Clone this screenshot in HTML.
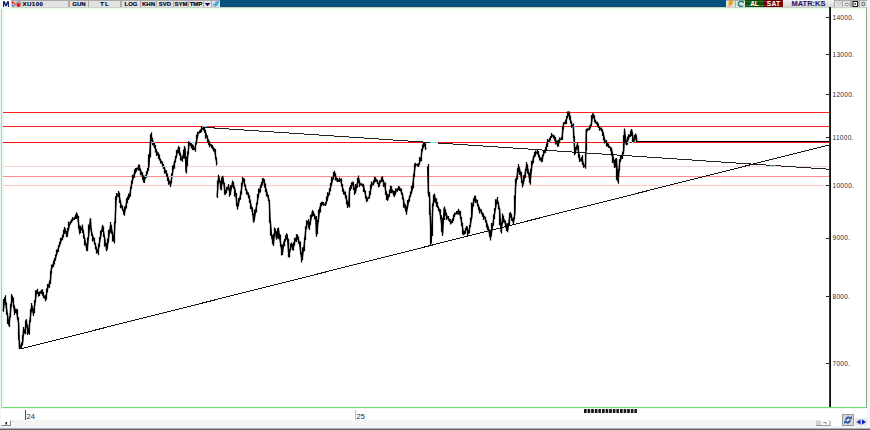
<!DOCTYPE html>
<html><head><meta charset="utf-8">
<style>
*{margin:0;padding:0;box-sizing:border-box}
html,body{width:870px;height:430px;overflow:hidden;background:#fff;font-family:"Liberation Sans",sans-serif}
.a{position:absolute}
#tb{position:absolute;left:0;top:0;width:867px;height:7.5px;background:#a9a9a9}
.btn{position:absolute;top:1px;height:6px;background:#e2e2e2;font-size:6px;font-weight:bold;line-height:7px;text-align:center;color:#000018;-webkit-text-stroke:0.15px #000018;letter-spacing:0px;overflow:hidden}
.lbl{position:absolute;left:832.5px;font-size:6.5px;line-height:9px;color:#2a2a3a;letter-spacing:0.3px}
</style></head><body>
<div id="tb"></div>
<div class="a" style="left:0;top:0;width:11px;height:8px;background:#fff"></div>
<svg class="a" style="left:0;top:0" width="11" height="8" viewBox="0 0 11 8"><polygon points="3,7 3,1.2 4.9,1.2 6,4.3 7.1,1.2 9,1.2 9,7 7.8,7 7.8,3.4 6.6,6.3 5.4,6.3 4.2,3.4 4.2,7" fill="#1a1a6e"/></svg>
<div class="btn" style="left:11px;width:11px;background:#cfcfcf"></div>
<svg class="a" style="left:11px;top:0" width="11" height="8" viewBox="0 0 11 8">
<polygon points="1,1 1,4 4.5,3.5" fill="#e82020"/>
<polyline points="1,5 2.2,6.5 4,4.8 6,3 7.5,1.4 9.8,3.5" fill="none" stroke="#1a20a0" stroke-width="1" stroke-dasharray="1,0.6"/>
<circle cx="7.5" cy="4.9" r="2" fill="#ee1010"/>
</svg>
<div class="btn" style="left:22px;width:46px;text-align:left;padding-left:0.5px;top:1px;line-height:7px;font-size:6px;letter-spacing:0.5px">XU100</div>
<div class="btn" style="left:70px;width:18px">GUN</div>
<div class="btn" style="left:89px;width:31px;letter-spacing:1px;padding-left:1px">TL</div>
<div class="btn" style="left:122px;width:18px">LOG</div>
<div class="btn" style="left:141px;width:15px">KHN</div>
<div class="btn" style="left:157px;width:16px">SVD</div>
<div class="btn" style="left:174px;width:14px">SYM</div>
<div class="btn" style="left:189px;width:14px">TMP</div>
<div class="btn" style="left:204px;width:7px"></div>
<svg class="a" style="left:204px;top:0" width="7" height="8"><polygon points="0.8,3 6.2,3 3.5,6.2" fill="#0a0a50"/></svg>
<div class="btn" style="left:212px;width:8px"></div>
<svg class="a" style="left:212px;top:0" width="8" height="8" viewBox="0 0 8 8"><path d="M0.5 3.5 C1.5 4 2.5 3.8 3 3.2 C3.2 2 4 1 5.5 1.2 L7.5 0.8 L6.8 2 C6.8 4.5 5 7 1 6.8 C2.5 6.3 2.6 6 2.2 5.6 C1.3 5.3 0.9 4.6 0.5 3.5 Z" fill="#40a8e4"/></svg>
<div class="a" style="left:220px;top:0;width:506px;height:7px;background:#07517f"></div>
<div class="btn" style="left:726px;width:9px"></div>
<svg class="a" style="left:726px;top:0" width="9" height="8" viewBox="0 0 9 8"><polygon points="3.8,0.8 7,0.8 5.6,3 7.2,3 2.6,7.2 4,4.3 2.4,4.3" fill="#f0a000" stroke="#e09000" stroke-width="0.4"/></svg>
<div class="btn" style="left:736px;width:9px"></div>
<svg class="a" style="left:736px;top:0" width="9" height="8" viewBox="0 0 9 8"><path d="M7 2.2 A2.6 2.6 0 1 0 7 5.6" fill="none" stroke="#1a8a70" stroke-width="1.6"/><polygon points="5.2,1 7.8,1 7.8,3.4" fill="#1a8a70"/></svg>
<div class="btn" style="left:745px;width:19px;top:0;height:7px;background:linear-gradient(#0a4a0a 0,#0a4a0a 1px,#2a7a2a 1px,#2a7a2a 2px,#0a4f0a 2px,#0a4f0a 5px,#2a7a2a 5px,#2a7a2a 6px,#0a4a0a 6px);color:#fff;-webkit-text-stroke:0;font-size:6.5px;line-height:8px">AL</div>
<div class="btn" style="left:764px;width:19px;top:0;height:7px;background:linear-gradient(#680000 0,#680000 1px,#902020 1px,#902020 2px,#6e0000 2px,#6e0000 5px,#902020 5px,#902020 6px,#680000 6px);color:#fff;-webkit-text-stroke:0;font-size:6.5px;line-height:8px;letter-spacing:0.3px">SAT</div>
<div class="btn" style="left:783px;width:51px;background:linear-gradient(#f4f4f4,#d4d4d4);color:#1e1e6a;font-size:7.5px;top:0;height:7px;line-height:8.5px;-webkit-text-stroke:0.1px #1e1e6a">MATR:KS</div>
<div class="btn" style="left:835px;width:7px"></div>
<div class="btn" style="left:843px;width:7px"></div>
<div class="btn" style="left:852px;width:7px"></div>
<div class="btn" style="left:860px;width:7px"></div>
<svg class="a" style="left:830px;top:0" width="40" height="8" viewBox="0 0 40 8">
<polygon points="7.2,2.6 11,2.6 9.8,4.8 8.4,4.8" fill="#fafafa" stroke="#aaa" stroke-width="0.6"/>
<ellipse cx="17" cy="4.4" rx="2" ry="1.1" fill="#fff" stroke="#777" stroke-width="0.8"/>
<rect x="23" y="1.5" width="4.5" height="5" fill="#fff" stroke="#111" stroke-width="1"/>
<rect x="24.5" y="3" width="1.3" height="2" fill="#333"/>
<rect x="27.8" y="2" width="0.8" height="1" fill="#222"/><rect x="27.8" y="4.5" width="0.8" height="1" fill="#222"/>
<rect x="32" y="2.3" width="2.8" height="3.4" rx="1" fill="none" stroke="#556" stroke-width="0.9"/>
</svg>
<div class="a" style="left:867px;top:0;width:3px;height:430px;background:#f2f5fa"></div>

<svg class="a" style="left:0;top:0" width="870" height="430" viewBox="0 0 870 430">
<rect x="0" y="7.5" width="866" height="2" fill="#ecfdec"/>
<rect x="0" y="8" width="1" height="422" fill="#f2f6fc"/>
<rect x="1" y="9" width="1" height="399" fill="#c4c4c4"/>
<rect x="2" y="9" width="2" height="398" fill="#eaffea"/>
<rect x="866" y="8" width="1" height="400" fill="#8aa88a"/>
<line x1="3" y1="112.5" x2="829" y2="112.5" stroke="#ff2020" stroke-width="1"/>
<line x1="3" y1="126.5" x2="829" y2="126.5" stroke="#ff2020" stroke-width="1"/>
<line x1="3" y1="142.5" x2="829" y2="142.5" stroke="#ff1010" stroke-width="1"/>
<line x1="637" y1="141.5" x2="829" y2="141.5" stroke="#000" stroke-width="1"/>
<line x1="3" y1="166.5" x2="829" y2="166.5" stroke="#ffd0d0" stroke-width="1"/>
<line x1="3" y1="176.5" x2="829" y2="176.5" stroke="#ff8c8c" stroke-width="1"/>
<line x1="3" y1="185.5" x2="829" y2="185.5" stroke="#ffc8c8" stroke-width="1"/>
<line x1="204" y1="127.3" x2="830" y2="169.3" stroke="#222" stroke-width="1" shape-rendering="crispEdges"/>
<line x1="19.5" y1="349.2" x2="830" y2="144.7" stroke="#111" stroke-width="1" shape-rendering="crispEdges"/>
<path d="M3.3 310.9 L4.9 297.1 L9.0 325.6 L12.2 295.5 L14.7 312.6 L16.3 310.1 L18.7 324.0 L19.5 348.4 L22.8 341.9 L23.6 328.9 L25.2 333.7 L26.0 319.9 L28.5 333.7 L30.1 319.1 L31.8 305.2 L33.4 314.2 L36.6 291.4 L39.1 294.7 L41.5 290.6 L45.6 299.5 L47.2 289.8 L50.5 280.0 L51.3 269.2 L55.4 258.6 L58.6 247.2 L62.7 236.6 L65.1 229.3 L66.8 235.8 L70.0 222.8 L77.4 214.7 L79.8 232.6 L82.2 226.9 L87.1 250.5 L90.4 218.7 L91.2 231.0 L97.7 252.9 L102.6 226.0 L106.7 250.5 L110.7 224.4 L114.0 241.5 L116.3 197.5 L118.7 193.4 L121.2 205.6 L124.4 213.7 L126.9 200.7 L129.3 197.5 L131.8 182.8 L135.0 171.4 L139.1 166.5 L141.5 173.0 L144.0 181.2 L146.4 174.7 L148.9 166.5 L150.9 134.7 L154.2 146.0 L159.9 159.1 L164.0 167.2 L170.5 185.1 L173.7 165.6 L178.6 147.7 L181.9 160.7 L185.1 147.7 L186.0 172.1 L189.2 142.8 L194.9 149.3 L198.2 133.0 L203.9 127.3 L208.8 142.8 L214.5 149.3 L216.9 164.0 M217.1 196.9 L218.7 176.5 L221.2 187.9 L222.8 176.5 L225.2 193.6 L228.5 186.3 L230.1 194.4 L232.6 182.2 L235.0 189.5 L237.5 207.5 L240.7 194.4 L243.2 178.1 L245.6 187.9 L249.7 199.3 L252.9 214.0 L253.7 222.1 L258.6 194.4 L260.3 187.9 L263.5 179.8 L266.0 189.5 L269.3 201.6 L270.1 219.5 L271.8 237.5 L273.4 244.0 L275.0 228.5 L276.6 238.3 L278.3 228.5 L279.9 239.1 L282.3 253.7 L284.0 242.3 L287.2 234.2 L288.9 256.2 L291.3 244.0 L292.9 248.9 L294.6 242.3 L297.0 235.8 L299.4 242.3 L301.9 260.3 L304.3 244.0 L306.0 227.7 L307.6 221.2 L309.2 227.7 L312.5 211.4 L315.7 217.9 L316.5 235.0 L319.8 208.1 L321.4 203.3 L325.4 205.0 L328.7 194.4 L330.3 188.7 L334.4 172.4 L337.3 181.2 L340.6 179.5 L343.0 189.3 L345.5 195.8 L348.7 206.4 L349.5 191.0 L352.8 182.8 L355.2 193.4 L358.5 177.9 L360.1 184.4 L363.4 185.2 L366.6 199.9 L369.1 197.5 L371.5 186.0 L375.6 178.7 L378.9 185.2 L382.1 177.9 L384.6 184.4 L386.2 194.2 L387.8 199.1 L391.1 187.7 L394.3 195.8 L396.8 189.3 L400.0 188.5 L402.5 195.0 L404.9 207.2 L406.5 212.1 L409.0 199.1 L412.1 190.3 L413.7 177.2 L415.4 164.2 L418.6 165.8 L421.1 157.7 L421.9 150.4 L424.3 143.8 L425.9 148.7 M427.6 166.6 L428.4 193.5 L429.5 194.9 L431.2 243.7 L432.8 206.3 L434.4 194.9 L436.1 203.0 L439.3 209.5 L440.9 217.7 L442.6 234.0 L444.2 207.9 L447.5 217.7 L451.5 222.6 L454.8 214.4 L458.9 211.2 L460.5 216.1 L463.7 234.0 L467.0 227.5 L468.6 234.0 L471.9 216.1 L472.7 204.7 L475.1 197.3 L478.4 206.3 L481.7 212.8 L484.9 217.7 L488.2 227.5 L490.6 238.0 L493.1 222.6 L494.7 212.8 L497.1 199.0 L499.6 209.5 L501.2 232.3 L502.8 216.1 L507.7 230.7 L510.2 212.8 L513.4 222.6 L515.0 212.8 L515.5 187.2 L517.1 175.8 L518.7 166.1 L520.4 172.6 L522.8 185.6 L524.4 177.5 L526.9 164.4 L528.5 172.6 L530.1 182.3 L531.8 166.1 L533.4 157.9 L535.0 154.7 L537.5 151.4 L539.9 157.9 L541.5 161.2 L544.0 153.0 L545.6 149.0 L548.0 142.4 L552.1 135.0 L555.4 139.1 L557.8 145.6 L560.3 139.1 L561.9 139.1 L563.5 124.4 L566.0 121.2 L568.4 113.0 L571.7 124.4 L573.3 126.5 L574.9 154.2 L577.3 144.4 L578.1 149.3 L579.8 160.7 L582.2 157.5 L583.0 164.0 L585.5 167.2 L586.3 129.8 L588.8 129.3 L591.2 124.9 L592.8 114.7 L595.2 120.8 L598.5 126.5 L602.6 131.4 L605.0 141.2 L607.5 144.4 L611.5 149.3 L613.2 157.5 L614.8 167.2 L616.4 159.1 L618.0 181.9 L619.7 162.3 L622.1 155.8 L623.7 150.9 L624.6 130.6 L626.2 144.4 L629.4 136.3 L631.9 131.4 L633.5 141.2 L636.0 134.7 L636.8 141.2" fill="none" stroke="#000" stroke-width="1.35" stroke-linejoin="miter"/>
<path d="M3.5 298.9V311.7M5.5 295.2V304.6M6.5 302.8V314.4M7.5 313.1V324.0M9.5 316.8V327.0M10.5 304.3V317.4M11.5 294.1V306.4M13.5 297.5V307.8M14.5 305.6V315.1M15.5 308.4V313.0M17.5 309.3V319.7M18.5 317.2V339.7M19.5 340.3V349.1M21.5 342.6V348.5M22.5 335.0V345.4M23.5 327.1V335.9M25.5 321.2V334.3M26.5 319.3V327.2M27.5 324.8V335.1M29.5 320.5V334.8M30.5 309.1V322.1M31.5 303.0V311.8M33.5 308.5V315.9M34.5 300.2V313.0M35.5 290.3V302.3M37.5 288.8V293.7M38.5 291.7V296.8M39.5 291.6V296.0M41.5 290.0V294.1M42.5 289.3V295.8M43.5 292.0V298.2M45.5 295.2V301.2M46.5 288.6V299.4M47.5 283.9V292.3M49.5 280.7V287.8M50.5 271.3V283.9M51.5 264.4V273.4M53.5 260.6V267.2M54.5 258.1V264.5M55.5 254.4V260.7M56.5 249.4V255.4M58.5 245.3V252.1M59.5 241.7V246.8M60.5 237.8V244.6M62.5 234.8V240.3M63.5 229.8V237.6M64.5 227.1V234.0M66.5 230.9V237.2M67.5 228.1V236.8M68.5 221.4V229.8M70.5 220.8V224.6M71.5 219.2V223.1M72.5 217.0V221.2M74.5 216.8V220.0M75.5 214.6V218.9M76.5 212.2V218.9M78.5 216.0V228.7M79.5 225.5V233.2M80.5 225.7V233.2M82.5 224.6V233.0M83.5 229.9V238.6M84.5 236.9V245.5M86.5 243.4V250.7M87.5 237.6V251.3M88.5 224.5V238.4M90.5 218.2V228.7M91.5 228.4V236.1M92.5 234.5V241.6M94.5 237.8V244.6M95.5 243.0V249.5M96.5 247.3V253.7M98.5 243.6V255.3M99.5 237.1V246.9M100.5 230.6V238.8M102.5 224.8V231.9M103.5 226.4V237.0M104.5 236.1V246.6M106.5 243.0V251.3M107.5 238.5V248.8M108.5 229.8V242.2M110.5 222.1V232.9M111.5 225.1V233.9M112.5 232.2V241.6M114.5 221.9V243.6M115.5 196.3V223.0M116.5 193.1V200.0M118.5 191.1V197.3M119.5 192.7V203.1M120.5 200.4V208.2M122.5 205.5V210.5M123.5 209.6V214.4M124.5 206.5V215.7M126.5 198.2V208.6M127.5 196.4V203.2M128.5 193.4V200.1M130.5 187.1V196.4M131.5 180.4V188.6M132.5 174.7V183.4M134.5 169.5V177.8M135.5 168.1V173.7M136.5 167.7V171.7M138.5 164.4V170.4M139.5 164.4V171.0M140.5 168.8V175.3M142.5 172.2V179.7M143.5 175.2V182.5M144.5 175.7V182.9M146.5 171.2V177.7M147.5 168.1V173.7M148.5 154.2V170.8M150.5 133.9V157.6M151.5 132.2V141.0M152.5 138.1V145.3M154.5 143.1V148.0M155.5 145.1V152.4M156.5 149.1V156.0M158.5 152.4V159.0M159.5 154.6V160.6M160.5 158.7V163.4M162.5 161.4V166.6M163.5 164.0V169.0M164.5 167.1V173.7M166.5 170.3V176.4M167.5 173.4V181.0M168.5 177.4V184.7M170.5 180.9V186.7M171.5 173.6V183.3M172.5 165.6V175.6M174.5 161.1V168.8M175.5 155.9V162.8M176.5 149.9V158.1M178.5 146.5V153.2M179.5 147.1V155.8M180.5 153.2V160.6M182.5 156.1V161.8M183.5 149.6V158.4M184.5 146.0V158.7M186.5 156.4V173.5M187.5 151.2V166.0M188.5 141.2V154.2M190.5 141.7V146.2M191.5 143.2V148.6M192.5 144.2V149.9M193.5 145.2V150.2M195.5 141.8V151.8M196.5 134.7V143.9M197.5 131.7V138.0M199.5 130.5V133.4M200.5 129.2V133.0M201.5 126.3V132.1M203.5 126.5V130.4M204.5 126.1V132.8M205.5 129.9V138.7M207.5 135.5V142.9M208.5 139.3V145.0M209.5 141.0V147.2M211.5 144.2V147.9M212.5 145.0V149.2M213.5 147.2V151.6M215.5 148.9V159.2M216.5 157.4V165.4M217.5 180.4V198.1M218.5 174.7V182.5M220.5 180.7V189.6M221.5 177.6V190.4M222.5 175.8V183.8M224.5 182.7V194.3M225.5 190.0V194.4M226.5 186.8V193.3M228.5 184.1V189.8M229.5 188.4V196.8M230.5 185.1V194.9M232.5 181.5V187.1M233.5 181.7V188.8M234.5 187.0V196.6M236.5 192.9V205.9M237.5 203.5V209.8M238.5 198.1V206.2M240.5 191.3V199.7M241.5 182.4V194.6M242.5 177.0V184.3M244.5 178.5V186.2M245.5 184.8V190.6M246.5 189.4V194.4M248.5 192.6V198.3M249.5 195.3V203.0M250.5 200.7V208.9M252.5 207.2V214.8M253.5 214.1V222.6M254.5 209.4V220.1M256.5 203.0V212.5M257.5 193.9V204.2M258.5 188.4V197.3M260.5 184.8V192.6M261.5 181.7V187.7M262.5 177.9V185.4M264.5 179.2V187.5M265.5 183.6V192.2M266.5 189.3V196.4M268.5 194.9V200.9M269.5 199.7V222.8M270.5 220.6V235.7M272.5 235.0V244.2M273.5 233.8V245.9M274.5 227.4V236.4M276.5 231.2V239.8M277.5 228.2V237.7M278.5 227.4V239.2M280.5 234.6V246.6M281.5 244.4V255.6M282.5 244.4V254.9M284.5 239.6V246.3M285.5 235.3V241.5M286.5 233.3V239.8M288.5 238.7V257.3M289.5 249.1V257.4M290.5 243.4V249.9M292.5 243.7V249.9M293.5 242.3V250.5M294.5 237.8V245.6M296.5 234.3V242.0M297.5 234.5V240.1M298.5 236.6V243.7M300.5 241.4V254.3M301.5 252.4V262.6M302.5 247.3V259.9M304.5 237.2V251.3M305.5 226.4V240.0M306.5 220.2V229.1M308.5 219.0V228.3M309.5 221.4V230.1M310.5 214.7V224.7M312.5 210.4V216.8M313.5 211.4V215.9M314.5 214.1V219.6M316.5 215.9V236.8M317.5 220.1V234.1M318.5 209.6V221.8M320.5 203.0V212.5M321.5 201.7V206.6M322.5 201.7V204.8M323.5 202.1V205.8M325.5 202.2V206.1M326.5 196.5V203.5M327.5 192.2V200.8M329.5 188.0V195.3M330.5 182.8V191.2M331.5 176.9V185.8M333.5 171.9V179.4M334.5 171.6V176.4M335.5 173.6V180.6M337.5 178.0V181.7M338.5 179.5V181.8M339.5 177.6V182.0M341.5 178.4V186.5M342.5 184.1V191.7M343.5 189.0V194.5M345.5 191.6V198.5M346.5 195.3V204.4M347.5 201.7V207.9M349.5 187.5V207.6M350.5 185.0V190.6M351.5 182.2V188.7M353.5 181.9V189.9M354.5 187.7V195.0M355.5 184.0V193.1M357.5 178.0V187.7M358.5 175.5V183.2M359.5 180.6V186.9M361.5 183.0V185.4M362.5 184.4V186.7M363.5 183.8V192.1M365.5 190.5V198.3M366.5 196.3V202.2M367.5 197.4V201.2M369.5 191.1V198.6M370.5 184.5V194.9M371.5 181.6V187.7M373.5 180.3V185.2M374.5 176.7V183.2M375.5 177.4V182.1M377.5 179.8V183.9M378.5 182.8V187.5M379.5 180.2V186.6M381.5 177.2V182.2M382.5 176.3V181.8M383.5 179.9V186.9M385.5 182.5V194.8M386.5 191.2V199.9M387.5 193.9V200.8M389.5 189.8V196.7M390.5 185.7V192.9M391.5 186.2V193.3M393.5 190.5V195.4M394.5 190.9V196.6M395.5 188.4V194.4M397.5 187.9V191.7M398.5 186.1V190.1M399.5 186.6V191.1M401.5 188.5V194.7M402.5 192.8V199.5M403.5 198.1V207.8M405.5 204.3V211.2M406.5 206.0V214.7M407.5 200.0V208.8M409.5 195.7V201.8M410.5 191.6V197.1M411.5 185.8V193.7M413.5 174.3V188.5M414.5 163.7V176.7M415.5 162.8V166.8M417.5 163.5V166.6M418.5 163.3V166.9M419.5 157.1V164.4M421.5 148.8V161.2M422.5 144.6V151.3M423.5 142.7V147.7M425.5 143.3V150.1M428.5 164.1V196.4M429.5 191.8V215.0M430.5 216.1V245.7M432.5 203.6V236.1M433.5 194.8V205.9M434.5 193.6V202.6M436.5 198.3V206.8M437.5 202.1V208.2M438.5 206.6V211.3M440.5 209.3V219.2M441.5 215.2V231.7M442.5 217.8V236.1M444.5 206.4V220.0M445.5 209.4V215.8M446.5 212.9V220.1M448.5 215.9V220.4M449.5 218.6V222.0M450.5 219.2V224.6M452.5 218.7V223.1M453.5 214.5V220.9M454.5 212.6V216.9M456.5 211.1V214.4M457.5 210.7V214.3M458.5 208.7V214.7M460.5 210.7V219.1M461.5 217.1V226.1M462.5 223.0V234.5M464.5 230.8V234.5M465.5 227.7V233.7M466.5 226.1V230.2M467.5 227.6V236.4M469.5 225.0V233.3M470.5 217.5V226.9M471.5 202.6V219.2M473.5 198.3V206.4M474.5 195.7V201.2M475.5 195.8V202.9M477.5 199.7V206.4M478.5 204.6V210.3M479.5 207.3V213.4M481.5 209.5V214.2M482.5 212.5V216.7M483.5 213.6V219.9M485.5 216.7V222.4M486.5 220.4V227.6M487.5 224.5V230.3M489.5 229.4V236.8M490.5 230.9V240.4M491.5 223.1V235.4M493.5 214.5V225.8M494.5 208.2V218.9M495.5 199.3V209.2M497.5 197.1V204.1M498.5 201.9V209.6M499.5 207.9V225.3M501.5 223.1V233.5M502.5 213.6V224.1M503.5 215.4V222.6M505.5 220.6V227.8M506.5 223.6V231.0M507.5 223.3V232.2M509.5 213.1V225.8M510.5 211.9V217.5M511.5 214.1V220.8M513.5 217.7V224.8M514.5 195.3V219.2M515.5 178.6V194.0M517.5 168.2V179.6M518.5 164.0V172.5M519.5 167.4V174.9M521.5 171.7V182.8M522.5 180.4V187.6M523.5 175.2V183.8M525.5 168.9V178.1M526.5 162.0V170.8M527.5 164.2V173.8M529.5 172.7V182.8M530.5 168.7V184.8M531.5 160.7V171.5M533.5 155.5V163.2M534.5 151.9V157.6M535.5 150.4V156.3M537.5 149.2V154.6M538.5 151.0V157.3M539.5 155.2V160.5M541.5 157.3V161.9M542.5 154.6V161.7M543.5 150.6V155.9M545.5 147.6V153.1M546.5 143.4V150.5M547.5 139.1V146.9M549.5 138.0V141.9M550.5 135.9V140.4M551.5 133.0V137.9M553.5 134.7V138.6M554.5 135.5V140.8M555.5 136.9V144.4M557.5 140.5V146.4M558.5 139.7V146.4M559.5 137.4V143.1M561.5 137.1V140.0M562.5 126.3V139.8M563.5 122.3V129.0M565.5 119.7V124.2M566.5 115.9V123.9M567.5 111.4V117.9M569.5 111.4V119.8M570.5 115.6V123.2M571.5 121.3V127.7M573.5 123.3V137.9M574.5 136.3V155.3M575.5 147.0V153.8M577.5 141.9V149.2M578.5 145.6V157.6M579.5 154.5V162.1M581.5 157.0V161.8M582.5 155.0V164.9M583.5 162.5V167.7M585.5 152.7V168.5M586.5 128.8V150.8M587.5 128.3V131.4M589.5 125.6V130.3M590.5 124.5V128.5M591.5 115.1V125.8M593.5 113.5V118.1M594.5 115.2V122.2M595.5 120.1V123.6M597.5 121.7V126.9M598.5 123.5V127.9M599.5 126.5V130.8M601.5 127.5V131.5M602.5 129.3V135.9M603.5 132.5V140.5M604.5 137.9V143.5M606.5 139.9V146.4M607.5 142.7V146.4M608.5 143.6V148.1M610.5 146.7V151.2M611.5 147.5V155.8M612.5 152.6V163.0M614.5 159.7V168.0M615.5 158.6V167.2M616.5 158.1V180.2M618.5 169.2V183.7M619.5 159.2V170.5M620.5 156.1V161.4M622.5 151.4V159.1M623.5 135.3V154.2M624.5 128.4V142.5M626.5 139.8V145.2M627.5 136.5V144.7M628.5 134.2V139.4M630.5 130.7V136.9M631.5 129.0V135.9M632.5 132.4V142.0M634.5 135.1V141.5M635.5 133.4V139.7M636.5 135.8V142.1" fill="none" stroke="#000" stroke-width="1.25"/>
<g fill="#7ee0f0">
<rect x="203" y="126" width="4" height="1"/>
<rect x="152" y="142" width="2.5" height="1"/>
<rect x="190" y="142" width="5.5" height="1"/>
<rect x="430" y="142" width="8" height="1"/>
<rect x="144.5" y="176" width="2.5" height="1"/>
<rect x="170.5" y="176" width="2.5" height="1"/>
<rect x="163" y="166" width="4" height="1"/>
<rect x="548" y="142" width="2" height="1"/>
<rect x="573.5" y="126" width="1.5" height="1"/>
<rect x="573.5" y="142" width="1.5" height="1"/>
<rect x="627" y="142" width="2" height="1"/>
<rect x="632" y="142" width="2" height="1"/>
<rect x="770" y="165.5" width="6" height="1"/>
</g>
<rect x="829" y="141" width="1" height="1" fill="#40d040"/>
<rect x="829" y="144" width="1" height="1" fill="#40d040"/>
<rect x="829" y="7" width="1" height="401" fill="#800080"/>
<rect x="830" y="7" width="1" height="401" fill="#101010"/>
<rect x="826" y="17" width="3" height="1" fill="#222"/><rect x="826" y="54" width="3" height="1" fill="#222"/><rect x="826" y="94" width="3" height="1" fill="#222"/><rect x="826" y="137" width="3" height="1" fill="#222"/><rect x="826" y="185" width="3" height="1" fill="#222"/><rect x="826" y="238" width="3" height="1" fill="#222"/><rect x="826" y="296" width="3" height="1" fill="#222"/><rect x="826" y="363" width="3" height="1" fill="#222"/>
<rect x="2.5" y="407" width="863.5" height="1" fill="#66e466"/>
<rect x="2" y="408" width="864" height="1" fill="#f7eef7"/>
<rect x="25" y="410" width="1" height="10" fill="#4a4a4a"/>
<rect x="355" y="410" width="1.2" height="10" fill="#c4c4c4"/>
<defs><pattern id="chk" x="11" y="420" width="8" height="6" patternUnits="userSpaceOnUse">
<rect width="8" height="6" fill="#f8f8f8"/><ellipse cx="2" cy="1.5" rx="2.2" ry="1.3" fill="#efefef"/><ellipse cx="6" cy="4.5" rx="2.2" ry="1.3" fill="#efefef"/></pattern>
<pattern id="dash" x="584" y="409" width="3.6" height="4" patternUnits="userSpaceOnUse"><rect width="2.6" height="4" fill="#151515"/></pattern></defs>
<rect x="11" y="420" width="805" height="6" fill="url(#chk)"/>
<rect x="584" y="409" width="53.5" height="4" fill="url(#dash)"/>
<rect x="1.5" y="420.5" width="9" height="5" fill="#fdfdfd"/>
<rect x="1.5" y="425" width="9.5" height="1" fill="#888"/>
<rect x="10" y="420.5" width="1" height="5.5" fill="#888"/>
<rect x="5.5" y="422" width="1.5" height="2.5" fill="#111"/>
<rect x="816" y="420.5" width="14" height="5" fill="#fbfbfb"/>
<rect x="816" y="420.5" width="5" height="5" fill="#d2d2d2"/>
<rect x="816" y="425" width="14.5" height="1" fill="#9a9a9a"/>
<rect x="829.5" y="420.5" width="1" height="5.5" fill="#9a9a9a"/>
<rect x="823" y="422" width="3" height="0.8" fill="#777"/><rect x="825.5" y="422" width="0.8" height="2" fill="#777"/>
<rect x="1" y="426" width="866" height="2.5" fill="#f1f4f9"/>
<rect x="842.5" y="414.5" width="11" height="11" fill="#d6d6d6" stroke="#9a9a9a" stroke-width="1"/>
<path d="M845.5 419.5 C846 416.5 849 416 850.5 417.5 L851.5 416.5 L851.5 419 L849 419 L850 418.2 C849 417.4 847.2 417.6 846.8 419.5 Z M850.5 420.5 C850 423.5 847 424 845.5 422.5 L844.5 423.5 L844.5 421 L847 421 L846 421.8 C847 422.6 848.8 422.4 849.2 420.5 Z" fill="#1848a8" stroke="#1848a8" stroke-width="0.5"/>
<rect x="855" y="418.5" width="12" height="7" fill="#e4e4e4"/><rect x="861" y="418.5" width="0.6" height="7" fill="#c8c8c8"/>
<polygon points="856.5,422 860.5,419.5 860.5,424.5" fill="#0a20c8"/>
<polygon points="866,422 862,419.5 862,424.5" fill="#0a20c8"/>
<rect x="0" y="428.5" width="870" height="1.5" fill="#646464"/>
</svg>
<div class="lbl" style="top:12.7px">14000.</div><div class="lbl" style="top:49.7px">13000.</div><div class="lbl" style="top:89.6px">12000.</div><div class="lbl" style="top:133.1px">11000.</div><div class="lbl" style="top:180.6px">10000.</div><div class="lbl" style="top:233.2px">9000.</div><div class="lbl" style="top:292.0px">8000.</div><div class="lbl" style="top:358.7px">7000.</div>
<div class="a" style="left:26.5px;top:412px;font-size:7.5px;line-height:10px;color:#2a2a2a">24</div>
<div class="a" style="left:356.5px;top:412px;font-size:7.5px;line-height:10px;color:#2a2a2a">25</div>
</body></html>
